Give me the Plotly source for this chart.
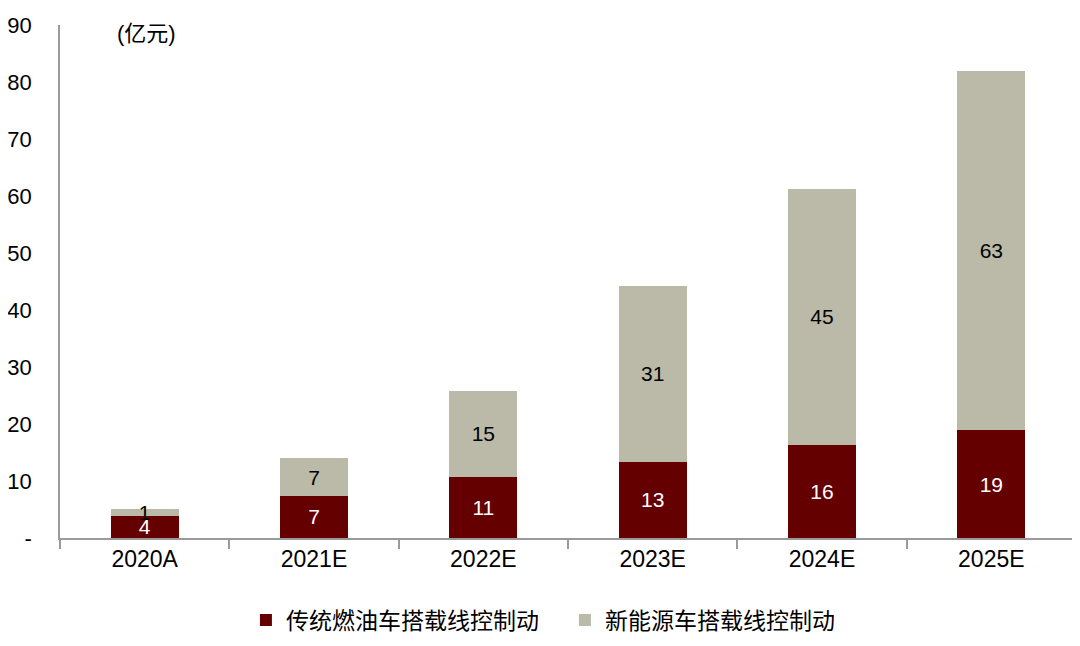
import plotly.graph_objects as go

# 数据：线控制动市场规模（亿元）
YEARS = ["2020A", "2021E", "2022E", "2023E", "2024E", "2025E"]
FUEL_CAR = [3.9, 7.4, 10.7, 13.4, 16.4, 18.9]
NEV_CAR = [1.2, 6.6, 15.1, 30.8, 44.9, 63.0]
Y_TICKS = [0, 10, 20, 30, 40, 50, 60, 70, 80, 90]
Y_TICK_TEXT = ["-", "10", "20", "30", "40", "50", "60", "70", "80", "90"]

RED = "#650000"
GREY = "#BBB9A8"
FONT = "Liberation Sans, Noto Sans CJK SC, Arial, sans-serif"

fig = go.Figure()

fig.add_trace(
    go.Bar(
        x=YEARS,
        y=FUEL_CAR,
        name="传统燃油车搭载线控制动",
        marker=dict(color=RED, line=dict(width=0)),
        width=0.4,
        texttemplate="%{y:.0f}",
        textposition="inside",
        insidetextanchor="middle",
        constraintext="none",
        textangle=0,
        textfont=dict(color="white", size=21, family=FONT),
    )
)
fig.add_trace(
    go.Bar(
        x=YEARS,
        y=NEV_CAR,
        name="新能源车搭载线控制动",
        marker=dict(color=GREY, line=dict(width=0)),
        width=0.4,
        texttemplate="%{y:.0f}",
        textposition="inside",
        insidetextanchor="middle",
        constraintext="none",
        textangle=0,
        textfont=dict(color="black", size=21, family=FONT),
    )
)

fig.add_annotation(
    x=0.054,
    y=0.984,
    xref="paper",
    yref="paper",
    text="(亿元)",
    showarrow=False,
    xanchor="left",
    yanchor="middle",
    font=dict(size=22, color="black", family=FONT),
)

fig.update_xaxes(
    showline=True,
    linecolor="#9A9A9A",
    linewidth=1.5,
    ticks="outside",
    tickson="boundaries",
    ticklen=9,
    tickcolor="#9A9A9A",
    tickwidth=1.5,
    tickfont=dict(size=23, color="black", family=FONT),
    showgrid=False,
    automargin=False,
)
fig.update_yaxes(
    range=[0, 90],
    tickvals=Y_TICKS,
    ticktext=Y_TICK_TEXT,
    showline=True,
    linecolor="#9A9A9A",
    linewidth=1.5,
    ticks="",
    ticklabelstandoff=22,
    tickfont=dict(size=22, color="black", family=FONT),
    showgrid=False,
    zeroline=False,
    automargin=False,
)

fig.update_layout(
    barmode="stack",
    width=1080,
    height=646,
    margin=dict(l=52, r=12, t=17, b=116),
    paper_bgcolor="white",
    plot_bgcolor="white",
    font=dict(family=FONT, color="black"),
    showlegend=True,
    legend=dict(
        orientation="h",
        x=0.183,
        xanchor="left",
        y=-0.16,
        yanchor="middle",
        traceorder="normal",
        font=dict(size=23, color="black", family=FONT),
        itemwidth=30,
        entrywidth=274,
        entrywidthmode="pixels",
    ),
)

fig.write_html("out.html")
